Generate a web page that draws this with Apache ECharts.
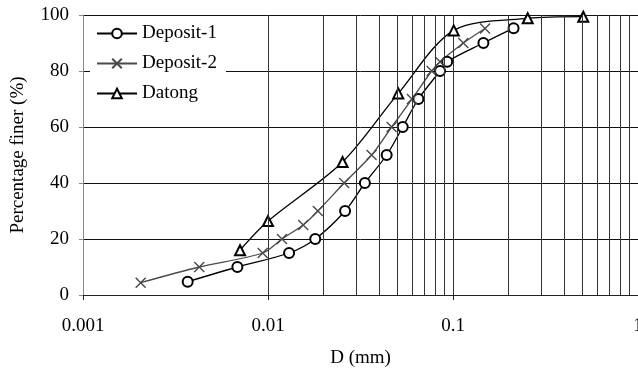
<!DOCTYPE html>
<html>
<head>
<meta charset="utf-8">
<script src="https://cdn.jsdelivr.net/npm/echarts@6/dist/echarts.min.js"></script>
<style>
  html, body { margin: 0; padding: 0; background: #fff; }
  #chart { width: 638px; height: 372px; }
</style>
</head>
<body>
<div id="chart"></div>
<script>
// Grain size distribution curves: particle diameter D (mm) vs percentage finer (%)
const deposit1D = [0.00368, 0.00683, 0.0130, 0.0180, 0.0261, 0.0334, 0.0438, 0.0535, 0.0650, 0.0851, 0.0930, 0.146, 0.2125];
const deposit1P = [4.75, 10, 15, 20, 30, 40, 50, 60, 70, 80, 83.3, 90, 95.3];

const deposit2D = [0.00205, 0.00425, 0.00936, 0.0119, 0.0155, 0.0186, 0.0258, 0.0363, 0.0466, 0.0600, 0.0767, 0.0851, 0.1137, 0.149];
const deposit2P = [4.4, 10, 15, 20, 25, 30, 40, 50, 60, 70, 80, 83.3, 90, 95.2];

const datongD = [0.00706, 0.0100, 0.0253, 0.0506, 0.1009, 0.2535, 0.506];
const datongP = [16, 26.4, 47.5, 72, 94.5, 98.8, 99.4];

const seriesNames = ['Deposit-1', 'Deposit-2', 'Datong'];
const yTicks = [0, 20, 40, 60, 80, 100];

// intermediate gridlines at 2..9 within each decade of the log axis
const minorGrid = [];
for (let e = -3; e < 0; e++) {
  for (let k = 2; k <= 9; k++) minorGrid.push(+(k * Math.pow(10, e)).toPrecision(3));
}

const FONT = 'Liberation Serif';
const pairs = (xs, ys) => xs.map((x, i) => [x, ys[i]]);
const crossPath = 'path://M0,0L10,10M10,0L0,10';

const chart = echarts.init(document.getElementById('chart'), null, { renderer: 'canvas' });
chart.setOption({
  animation: false,
  backgroundColor: '#fff',
  textStyle: { fontFamily: FONT, color: '#000' },
  grid: { left: 83, right: 0, top: 15, bottom: 77, containLabel: false, outerBoundsMode: 'none' },
  legend: {
    left: 90, top: 17,
    orient: 'vertical',
    backgroundColor: '#fff',
    padding: [7, 9, 8, 6],
    itemWidth: 40, itemHeight: 12, itemGap: 11,
    textStyle: { fontFamily: FONT, fontSize: 19, color: '#000', lineHeight: 18 },
    data: seriesNames
  },
  xAxis: {
    type: 'log', logBase: 10, min: 0.001, max: 1,
    name: 'D (mm)', nameLocation: 'middle', nameGap: 54,
    nameTextStyle: { fontFamily: FONT, fontSize: 19, color: '#000' },
    axisLine: { lineStyle: { color: '#222', width: 1 } },
    axisTick: { show: true, length: 5, lineStyle: { color: '#222' } },
    axisLabel: { fontFamily: FONT, fontSize: 19, color: '#000', margin: 22,
      formatter: v => String(+v.toPrecision(3)) },
    splitLine: { show: true, lineStyle: { color: '#333', width: 1 } }
  },
  yAxis: {
    type: 'value', min: yTicks[0], max: yTicks[yTicks.length - 1], interval: 20,
    name: 'Percentage finer (%)', nameLocation: 'middle', nameGap: 55,
    nameTextStyle: { fontFamily: FONT, fontSize: 19, color: '#000' },
    axisLine: { show: true, lineStyle: { color: '#888', width: 1 } },
    axisTick: { show: true, length: 4, lineStyle: { color: '#888' } },
    axisLabel: { fontFamily: FONT, fontSize: 19, color: '#000', margin: 14 },
    splitLine: { show: true, lineStyle: { color: '#111', width: 1 } }
  },
  series: [
    {
      name: 'Deposit-1', type: 'line', smooth: 0.3,
      data: pairs(deposit1D, deposit1P),
      symbol: 'emptyCircle', symbolSize: 10,
      lineStyle: { color: '#000', width: 1.3 },
      itemStyle: { color: '#000', borderColor: '#000', borderWidth: 1.3 },
      markLine: {
        silent: true, symbol: 'none', label: { show: false },
        lineStyle: { color: '#333', width: 1, type: 'solid' },
        data: minorGrid.map(v => ({ xAxis: v }))
      },
      z: 3
    },
    {
      name: 'Deposit-2', type: 'line', smooth: 0.3,
      data: pairs(deposit2D, deposit2P),
      symbol: crossPath, symbolSize: 10,
      lineStyle: { color: '#4a4a4a', width: 1.3 },
      itemStyle: { color: '#4a4a4a', borderColor: '#4a4a4a', borderWidth: 1.4 },
      z: 3
    },
    {
      name: 'Datong', type: 'line', smooth: 0.3,
      data: pairs(datongD, datongP),
      symbol: 'emptyTriangle', symbolSize: 10,
      lineStyle: { color: '#000', width: 1.3 },
      itemStyle: { color: '#000', borderColor: '#000', borderWidth: 1.5 },
      z: 3
    }
  ]
});
</script>
</body>
</html>
